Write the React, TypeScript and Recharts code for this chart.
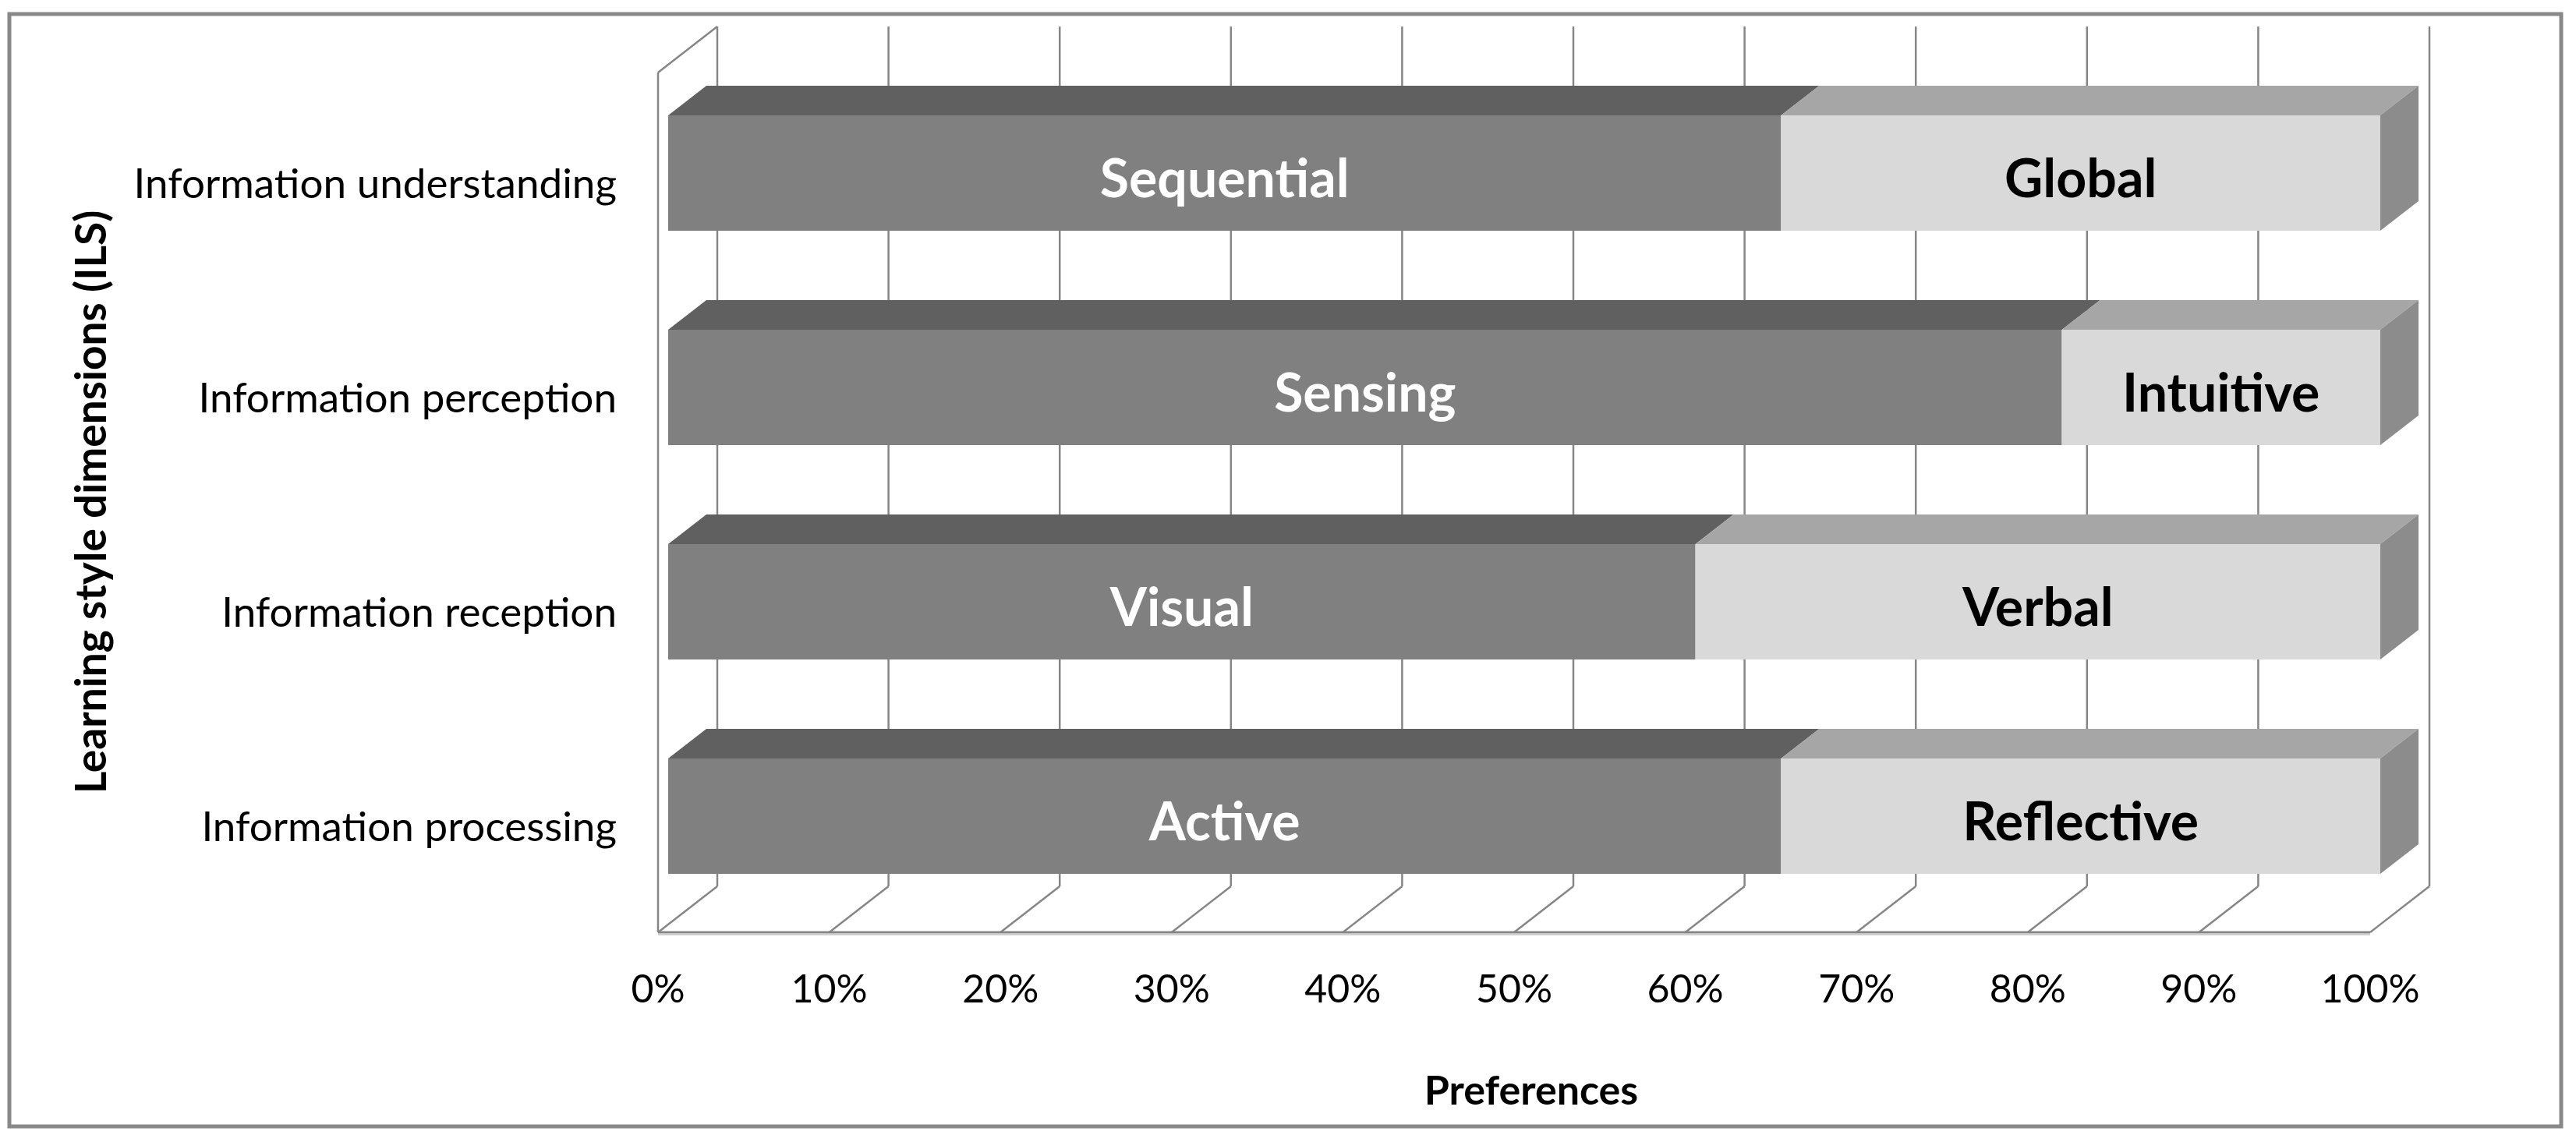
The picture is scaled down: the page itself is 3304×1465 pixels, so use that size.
import React from 'react';
import { BarChart, Bar, XAxis, YAxis } from 'recharts';

// ILS learning style preferences, top row first
const categories = [
  'Information understanding',
  'Information perception',
  'Information reception',
  'Information processing',
];
const leftNames = ['Sequential', 'Sensing', 'Visual', 'Active'];
const rightNames = ['Global', 'Intuitive', 'Verbal', 'Reflective'];
const leftValues = [65, 81.4, 60, 65];
const rightValues = [35, 18.6, 40, 35];
const xTicks = [0, 10, 20, 30, 40, 50, 60, 70, 80, 90, 100];

const data = categories.map((category, i) => ({
  category,
  left: leftValues[i],
  right: rightValues[i],
  leftName: leftNames[i],
  rightName: rightNames[i],
}));

const W = 3304;
const H = 1465;
const FONT = 'Lato, "Open Sans", sans-serif';

// front plane of the plot (where the bar fronts sit)
const PLOT_LEFT = 857;
const PLOT_RIGHT = 3053;
const PLOT_TOP = 84;
const PLOT_BOTTOM = 1184;

// fake 3d: floor / walls
const FLOOR_FRONT_Y = 1196;
const FLOOR_BACK_Y = 1137;
const WALL_TOP_Y = 34;
const FLOOR_FRONT_SHIFT = -13; // floor front edge vs bar front plane
const FLOOR_DX = 76;
const BAR_DX = 49;
const BAR_DY = 38;

const GRID = '#868686';

const xPos = (v: number) => PLOT_LEFT + (v / 100) * (PLOT_RIGHT - PLOT_LEFT);

const Backdrop = () => {
  const leftFront = xPos(0) + FLOOR_FRONT_SHIFT;
  const rightFront = xPos(100) + FLOOR_FRONT_SHIFT;
  return (
    <svg width={W} height={H} style={{ position: 'absolute', left: 0, top: 0 }}>
      <rect x={12} y={18} width={3273} height={1427} fill="#fff" stroke="#898989" strokeWidth={5} />
      {/* back wall gridlines */}
      {xTicks.map((t) => {
        const bx = xPos(t) + FLOOR_FRONT_SHIFT + FLOOR_DX;
        return <line key={`g${t}`} x1={bx} y1={WALL_TOP_Y} x2={bx} y2={FLOOR_BACK_Y} stroke={GRID} strokeWidth={2.5} />;
      })}
      {/* floor diagonals */}
      {xTicks.map((t) => {
        const fx = xPos(t) + FLOOR_FRONT_SHIFT;
        return (
          <line key={`f${t}`} x1={fx} y1={FLOOR_FRONT_Y} x2={fx + FLOOR_DX} y2={FLOOR_BACK_Y} stroke={GRID} strokeWidth={2.5} />
        );
      })}
      <line x1={leftFront} y1={FLOOR_FRONT_Y} x2={rightFront} y2={FLOOR_FRONT_Y} stroke={GRID} strokeWidth={3} />
      <line x1={leftFront} y1={FLOOR_FRONT_Y + 3} x2={rightFront} y2={FLOOR_FRONT_Y + 3} stroke="#d0d0d0" strokeWidth={2} />
      {/* left wall */}
      <line x1={leftFront} y1={WALL_TOP_Y + (FLOOR_FRONT_Y - FLOOR_BACK_Y)} x2={leftFront} y2={FLOOR_FRONT_Y} stroke={GRID} strokeWidth={2.5} />
      <line
        x1={leftFront}
        y1={WALL_TOP_Y + (FLOOR_FRONT_Y - FLOOR_BACK_Y)}
        x2={leftFront + FLOOR_DX}
        y2={WALL_TOP_Y}
        stroke={GRID}
        strokeWidth={2.5}
      />
      <text x={1964} y={1397} textAnchor="middle" dominantBaseline="central" fontFamily={FONT} fontWeight="bold" fontSize={52}>
        Preferences
      </text>
      <text
        x={0}
        y={0}
        transform="translate(136, 644) rotate(-90)"
        textAnchor="middle"
        fontFamily={FONT}
        fontWeight="bold"
        fontSize={55}
      >
        Learning style dimensions (ILS)
      </text>
    </svg>
  );
};

const LeftBlock = (props: any) => {
  const { x, y, width, height, payload } = props;
  return (
    <g>
      <polygon
        points={`${x},${y} ${x + width},${y} ${x + width + BAR_DX},${y - BAR_DY} ${x + BAR_DX},${y - BAR_DY}`}
        fill="#606060"
      />
      <rect x={x} y={y} width={width} height={height} fill="#808080" />
      <text
        x={x + width / 2}
        y={y + height / 2 + 4}
        textAnchor="middle"
        dominantBaseline="central"
        fill="#fff"
        fontFamily={FONT}
        fontWeight="bold"
        fontSize={68}
      >
        {payload.leftName}
      </text>
    </g>
  );
};

const RightBlock = (props: any) => {
  const { x, y, width, height, payload } = props;
  return (
    <g>
      <polygon
        points={`${x},${y} ${x + width},${y} ${x + width + BAR_DX},${y - BAR_DY} ${x + BAR_DX},${y - BAR_DY}`}
        fill="#a6a6a6"
      />
      <polygon
        points={`${x + width},${y} ${x + width + BAR_DX},${y - BAR_DY} ${x + width + BAR_DX},${y + height - BAR_DY} ${x + width},${y + height}`}
        fill="#8c8c8c"
      />
      <rect x={x} y={y} width={width} height={height} fill="#d9d9d9" />
      <text
        x={x + width / 2}
        y={y + height / 2 + 4}
        textAnchor="middle"
        dominantBaseline="central"
        fill="#000"
        fontFamily={FONT}
        fontWeight="bold"
        fontSize={68}
      >
        {payload.rightName}
      </text>
    </g>
  );
};

const CategoryTick = (props: any) => {
  const { y, payload } = props;
  return (
    <text x={PLOT_LEFT - 66} y={y + 12} textAnchor="end" dominantBaseline="central" fontFamily={FONT} fontSize={53} fill="#000">
      {payload.value}
    </text>
  );
};

const PercentTick = (props: any) => {
  const { x, payload } = props;
  return (
    <text x={x + FLOOR_FRONT_SHIFT} y={1267} textAnchor="middle" dominantBaseline="central" fontFamily={FONT} fontSize={50} fill="#000">
      {`${payload.value}%`}
    </text>
  );
};

export default function App() {
  return (
    <div style={{ position: 'relative', width: W, height: H, background: '#fff' }}>
      <style>{'body{margin:0;}'}</style>
      <Backdrop />
      <div style={{ position: 'absolute', left: 0, top: 0 }}>
        <BarChart
          width={W}
          height={H}
          data={data}
          layout="vertical"
          margin={{ top: PLOT_TOP, right: W - PLOT_RIGHT, bottom: H - PLOT_BOTTOM - 100, left: 0 }}
          barSize={148}
        >
          <XAxis
            type="number"
            domain={[0, 100]}
            ticks={xTicks}
            height={100}
            axisLine={false}
            tickLine={false}
            tick={<PercentTick />}
            interval={0}
          />
          <YAxis
            type="category"
            dataKey="category"
            width={PLOT_LEFT}
            axisLine={false}
            tickLine={false}
            tick={<CategoryTick />}
            interval={0}
          />
          <Bar dataKey="left" stackId="a" shape={<LeftBlock />} isAnimationActive={false} />
          <Bar dataKey="right" stackId="a" shape={<RightBlock />} isAnimationActive={false} />
        </BarChart>
      </div>
    </div>
  );
}
